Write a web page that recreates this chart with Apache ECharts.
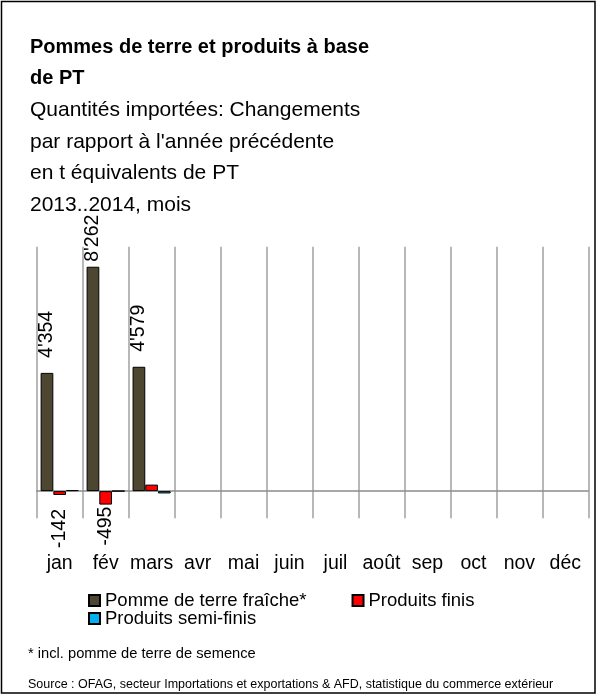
<!DOCTYPE html>
<html>
<head>
<meta charset="utf-8">
<script src="https://cdn.jsdelivr.net/npm/echarts@6/dist/echarts.min.js"></script>
<style>
html,body{margin:0;padding:0;background:#fff;}
#chart{width:597px;height:695px;}
</style>
</head>
<body>
<div id="chart"></div>
<script>
const months = ['jan','fév','mars','avr','mai','juin','juil','août','sep','oct','nov','déc'];
const fraiche = [4354, 8262, 4579, null, null, null, null, null, null, null, null, null];
const finis = [-142, -495, 240, null, null, null, null, null, null, null, null, null];
const semiFinis = [40, 5, -85, null, null, null, null, null, null, null, null, null];
const seriesNames = ['Pomme de terre fraîche*', 'Produits finis', 'Produits semi-finis'];
const yTicks = { min: -1000, max: 9000, interval: 1000 };

const FONT = "'Liberation Sans', Arial, sans-serif";
function fmt(v) {
  const s = String(Math.abs(v)).replace(/\B(?=(\d{3})+(?!\d))/g, "'");
  return (v < 0 ? '-' : '') + s;
}
function labelFor(v) {
  const base = { show: true, rotate: 90, fontFamily: FONT, fontSize: 19.5, color: '#000',
    verticalAlign: 'middle', formatter: p => fmt(p.value) };
  if (v >= 0) {
    // labels near the top of the plot are pulled closer to the bar (as in the source chart)
    const d = (yTicks.max - v) < 1000 ? 5 : 15;
    return Object.assign(base, { position: 'top', align: 'left', distance: d });
  }
  const dn = Math.abs(v) > 300 ? 2 : 14;
  return Object.assign(base, { position: 'bottom', align: 'right', distance: dn });
}
function build(values, showFn) {
  return values.map(v => v === null ? null : ({ value: v, label: showFn(v) ? labelFor(v) : { show: false } }));
}

const chart = echarts.init(document.getElementById('chart'), null, { renderer: 'canvas' });
const barCommon = { type: 'bar', barWidth: 12.7, barGap: '0%', xAxisIndex: 0, yAxisIndex: 0 };
chart.setOption({
  animation: false,
  backgroundColor: '#fff',
  textStyle: { fontFamily: FONT },
  title: [
    { text: 'Pommes de terre et produits à base\nde PT', left: 30, top: 31.5, padding: 0,
      textStyle: { fontFamily: FONT, fontSize: 20, fontWeight: 'bold', color: '#000', lineHeight: 31.5 } },
    { text: "Quantités importées: Changements\npar rapport à l'année précédente\nen t équivalents de PT\n2013..2014, mois",
      left: 30, top: 94.5, padding: 0,
      textStyle: { fontFamily: FONT, fontSize: 21, fontWeight: 'normal', color: '#000', lineHeight: 31.5 } }
  ],
  grid: { left: 36.7, right: 8.7, top: 246.7, bottom: 176.7, containLabel: false },
  xAxis: {
    type: 'category', data: months, boundaryGap: true,
    axisLine: { show: true, onZero: true, lineStyle: { color: '#8c8c8c', width: 1.5 } },
    axisTick: { show: false },
    splitLine: { show: true, lineStyle: { color: '#a0a0a0', width: 1.5 } },
    axisLabel: { margin: 35, fontFamily: FONT, fontSize: 19.5, color: '#000', interval: 0 }
  },
  yAxis: {
    type: 'value', min: yTicks.min, max: yTicks.max, interval: yTicks.interval,
    show: false, splitLine: { show: false }
  },
  legend: [
    { data: [seriesNames[0], seriesNames[1]], left: 88, top: 591, itemGap: 45,
      itemWidth: 11, itemHeight: 11, icon: 'rect', padding: 0,
      textStyle: { fontFamily: FONT, fontSize: 18.5, color: '#000', lineHeight: 19 } },
    { data: [seriesNames[2]], left: 88, top: 609, itemWidth: 11, itemHeight: 11, icon: 'rect', padding: 0,
      textStyle: { fontFamily: FONT, fontSize: 18.5, color: '#000', lineHeight: 19 } }
  ],
  series: [
    Object.assign({}, barCommon, { name: seriesNames[0], data: build(fraiche, v => true),
      itemStyle: { color: '#4d4731', borderColor: '#000', borderWidth: 1 } }),
    Object.assign({}, barCommon, { name: seriesNames[1], data: build(finis, v => v < 0),
      itemStyle: { color: '#ff0000', borderColor: '#000', borderWidth: 1 } }),
    Object.assign({}, barCommon, { name: seriesNames[2], data: build(semiFinis, v => false),
      itemStyle: { color: '#00b0f0', borderColor: '#000', borderWidth: 1 } })
  ],
  graphic: [
    { type: 'rect', shape: { x: 1.5, y: 1.5, width: 593.5, height: 691.5 }, silent: true,
      style: { fill: 'none', stroke: '#000', lineWidth: 1.5 } },
    { type: 'text', left: 28, top: 646, silent: true,
      style: { text: '* incl. pomme de terre de semence', fontFamily: FONT, fontSize: 14.7, fill: '#000' } },
    { type: 'text', left: 28, top: 678, silent: true,
      style: { text: 'Source : OFAG, secteur Importations et exportations & AFD, statistique du commerce extérieur', fontFamily: FONT, fontSize: 12.5, fill: '#000' } }
  ]
});
</script>
</body>
</html>
